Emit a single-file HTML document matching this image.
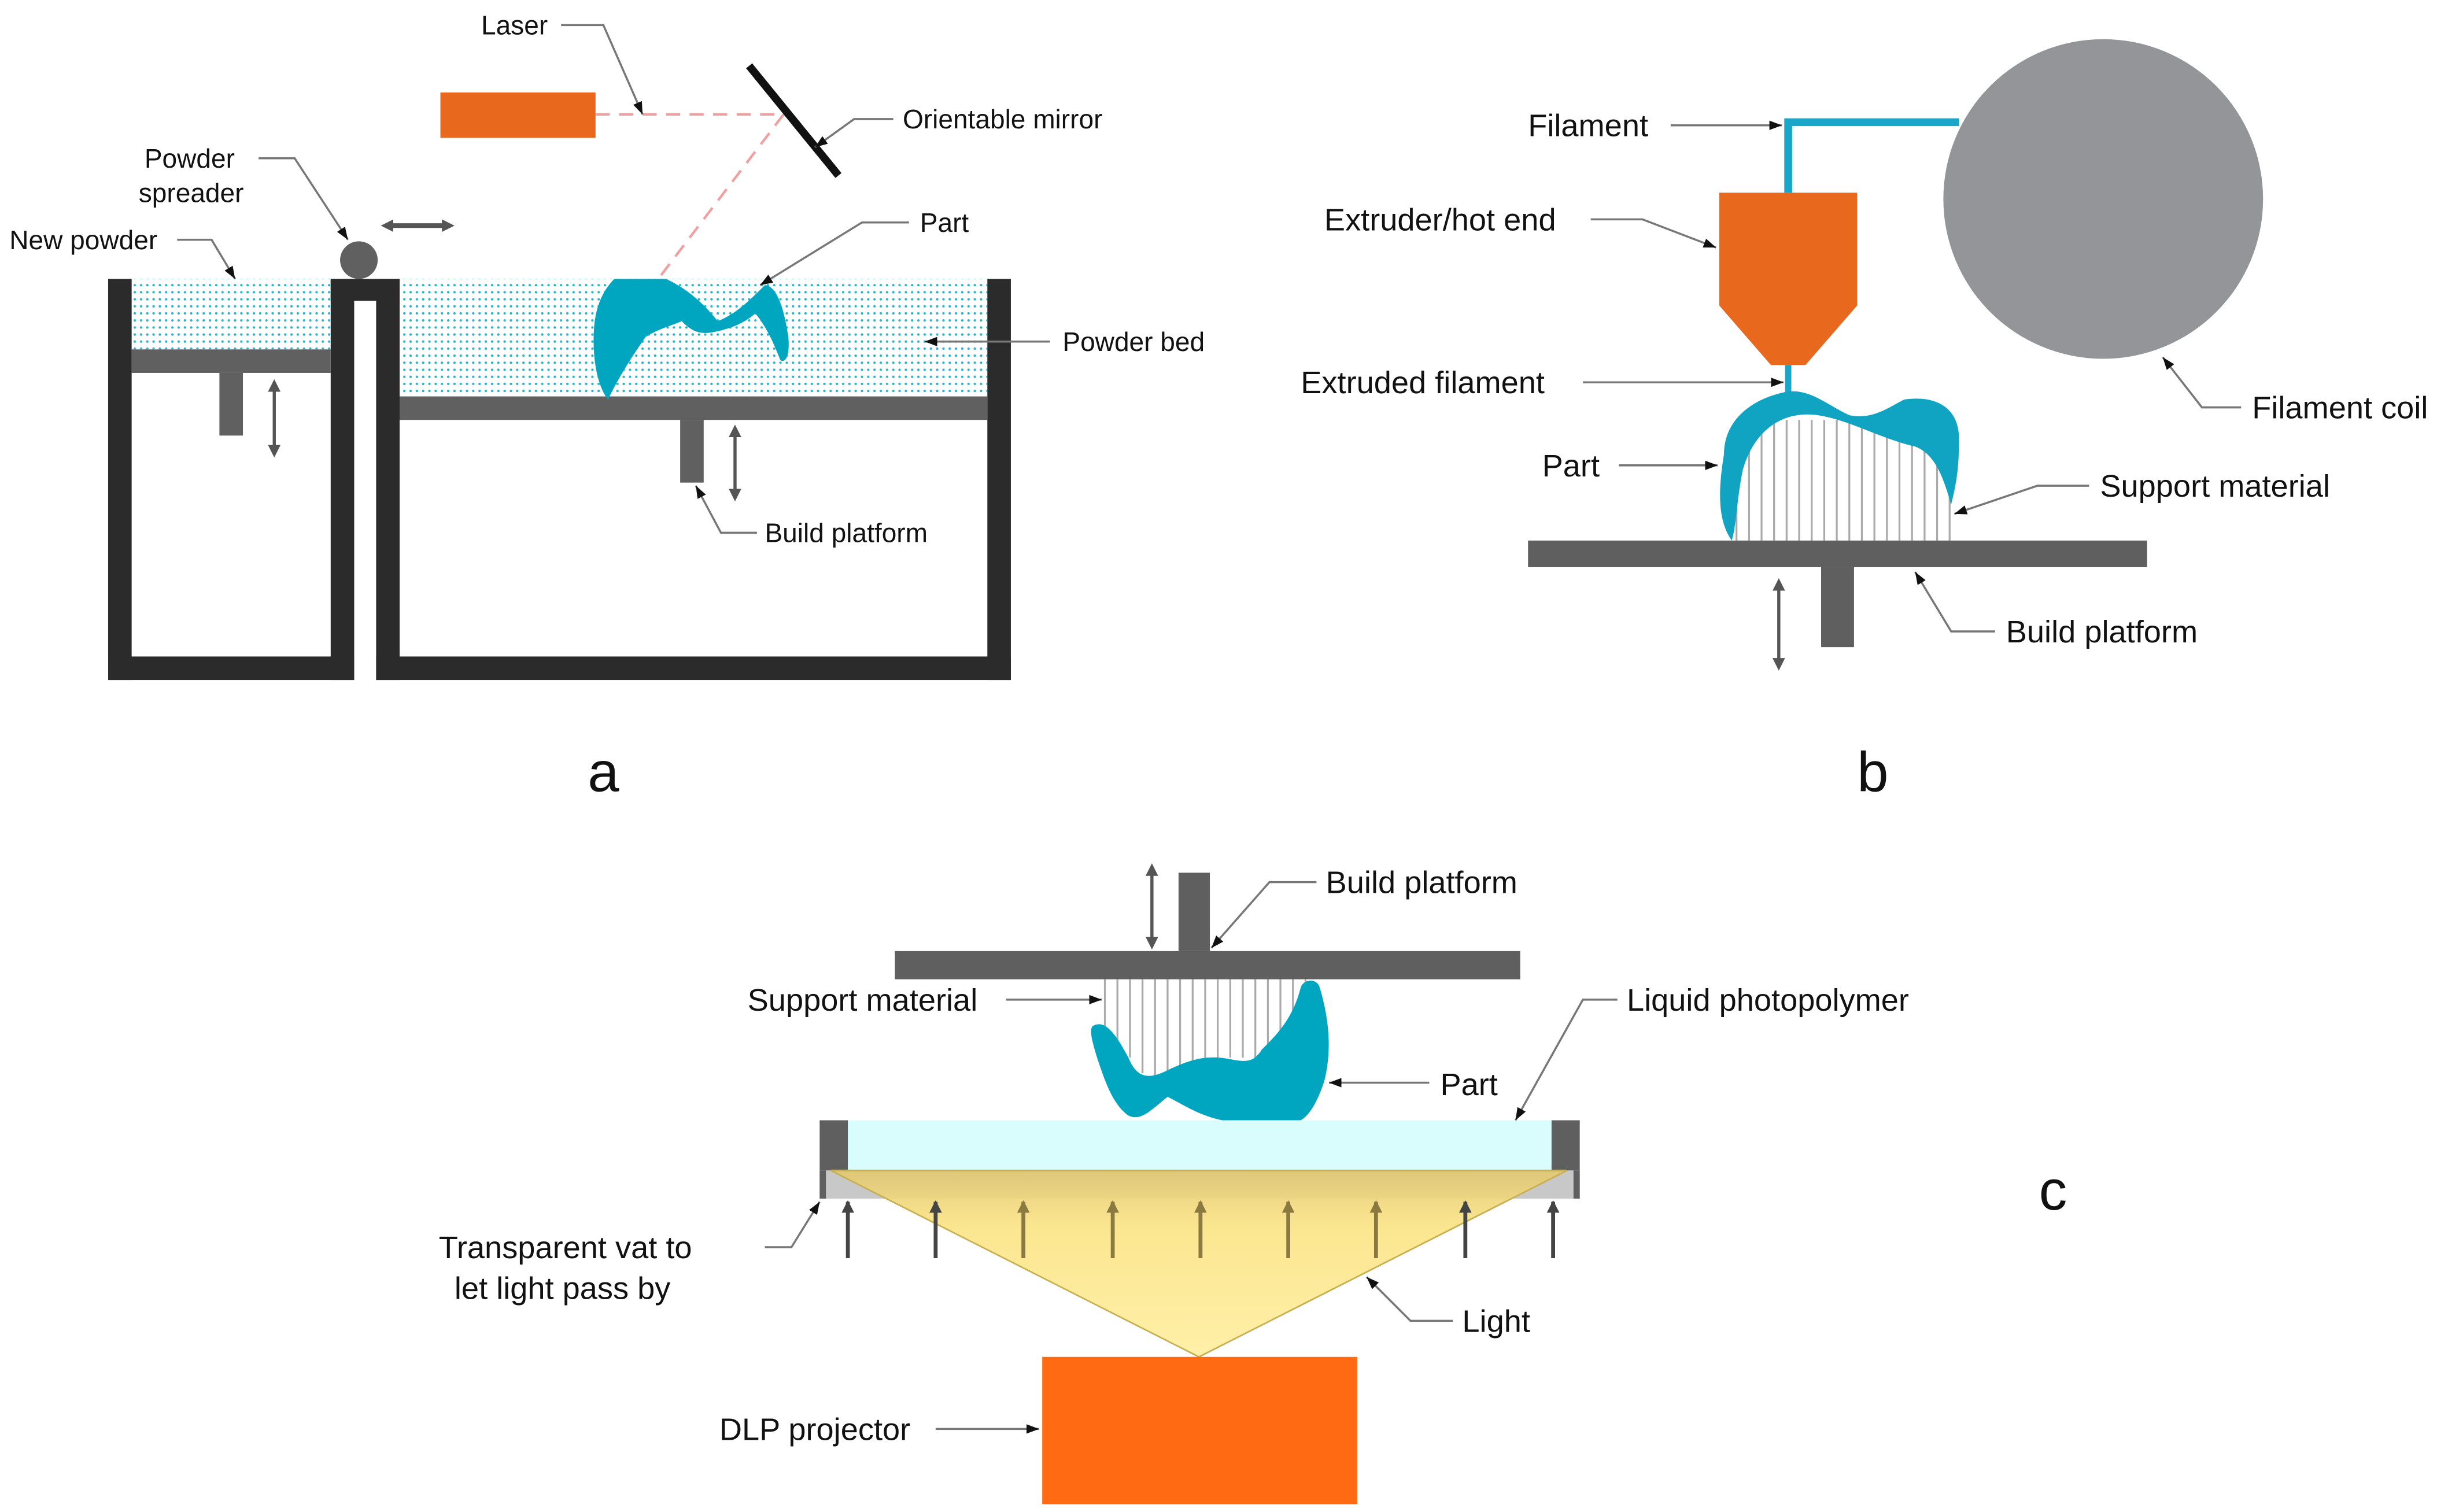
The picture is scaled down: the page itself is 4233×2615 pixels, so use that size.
<!DOCTYPE html>
<html><head><meta charset="utf-8"><style>html,body{margin:0;padding:0;background:#fff}svg{display:block}text{font-family:"Liberation Sans",sans-serif;fill:#111}</style></head>
<body>
<svg width="4233" height="2615" viewBox="0 0 1562 965" preserveAspectRatio="none" xmlns="http://www.w3.org/2000/svg">
<defs>
<pattern id="dots" width="4" height="4.5" patternUnits="userSpaceOnUse"><circle cx="2" cy="2" r="0.8" fill="#2bb5cc"/></pattern>
<marker id="ar" markerWidth="8" markerHeight="6" refX="8" refY="3" orient="auto" markerUnits="userSpaceOnUse"><path d="M0,0 L8,3 L0,6z" fill="#111"/></marker>
<marker id="da" markerWidth="8" markerHeight="8" refX="4" refY="4" orient="auto-start-reverse" markerUnits="userSpaceOnUse"><path d="M0,0 L8,4 L0,8z" fill="#555"/></marker>
<marker id="ua" markerWidth="8" markerHeight="8" refX="7" refY="4" orient="auto" markerUnits="userSpaceOnUse"><path d="M0,0 L8,4 L0,8z" fill="#444"/></marker>
<marker id="ub" markerWidth="8" markerHeight="8" refX="7" refY="4" orient="auto" markerUnits="userSpaceOnUse"><path d="M0,0 L8,4 L0,8z" fill="#8a7a40"/></marker>
<linearGradient id="lg" x1="0" y1="0" x2="0" y2="1"><stop offset="0" stop-color="#e2c66a" stop-opacity="0.85"/><stop offset="0.3" stop-color="#fbe690"/><stop offset="1" stop-color="#fff0a8"/></linearGradient>
</defs>
<style>.ld{fill:none;stroke:#777;stroke-width:1.3}.la{font-size:17px}.lb{font-size:20px}</style>

<!-- Panel a -->
<rect x="281" y="59" width="99" height="29" fill="#e8681e"/>
<path d="M380,73 H500 L420,178" fill="none" stroke="#f0a0a0" stroke-width="1.6" stroke-dasharray="9,6"/>
<line x1="478" y1="42" x2="535" y2="112" stroke="#111" stroke-width="5"/>
<rect x="84" y="178" width="127" height="45" fill="url(#dots)"/>
<rect x="255" y="178" width="375" height="75" fill="url(#dots)"/>
<rect x="69" y="178" width="15" height="256" fill="#2b2b2b"/>
<rect x="69" y="419" width="157" height="15" fill="#2b2b2b"/>
<rect x="211" y="178" width="15" height="256" fill="#2b2b2b"/>
<rect x="211" y="178" width="44" height="14" fill="#2b2b2b"/>
<rect x="240" y="178" width="15" height="256" fill="#2b2b2b"/>
<rect x="240" y="419" width="405" height="15" fill="#2b2b2b"/>
<rect x="630" y="178" width="15" height="256" fill="#2b2b2b"/>
<rect x="84" y="223" width="127" height="15" fill="#606060"/>
<rect x="140" y="238" width="15" height="40" fill="#606060"/>
<line x1="175" y1="246" x2="175" y2="288" stroke="#555" stroke-width="2" marker-start="url(#da)" marker-end="url(#da)"/>
<rect x="255" y="253" width="375" height="15" fill="#606060"/>
<rect x="434" y="268" width="15" height="40" fill="#606060"/>
<line x1="469" y1="275" x2="469" y2="316" stroke="#555" stroke-width="2" marker-start="url(#da)" marker-end="url(#da)"/>
<ellipse cx="229" cy="166" rx="12" ry="12" fill="#606060"/>
<line x1="247" y1="144" x2="286" y2="144" stroke="#555" stroke-width="3" marker-start="url(#da)" marker-end="url(#da)"/>
<path d="M392,178 L425,178 C440,185 450,195 458,205 C470,200 478,192 488,182 C495,182 500,195 503,215 C504,225 502,232 498,230 C494,220 490,210 482,200 C474,207 465,210 455,212 C445,214 440,210 435,205 C428,208 420,210 412,215 C405,225 395,240 388,255 C380,245 378,225 379,210 C380,195 385,185 392,178 Z" fill="#00a5c0"/>
<text class="la" x="307" y="22">Laser</text>
<path class="ld" d="M358,16 H385 L410,73" marker-end="url(#ar)"/>
<text class="la" x="576" y="82">Orientable mirror</text>
<path class="ld" d="M570,76 H545 L520,94" marker-end="url(#ar)"/>
<text class="la" x="121" y="107" text-anchor="middle">Powder</text>
<text class="la" x="122" y="129" text-anchor="middle">spreader</text>
<path class="ld" d="M165,101 H188 L222,153" marker-end="url(#ar)"/>
<text class="la" x="6" y="159">New powder</text>
<path class="ld" d="M113,153 H135 L150,178" marker-end="url(#ar)"/>
<text class="la" x="587" y="148">Part</text>
<path class="ld" d="M580,142 H550 L485,182" marker-end="url(#ar)"/>
<text class="la" x="678" y="224">Powder bed</text>
<path class="ld" d="M670,218 H590" marker-end="url(#ar)"/>
<text class="la" x="488" y="346">Build platform</text>
<path class="ld" d="M483,340 H460 L444,310" marker-end="url(#ar)"/>
<text x="385" y="505" font-size="36" text-anchor="middle">a</text>

<!-- Panel b -->
<circle cx="1342" cy="127" r="102" fill="#939598"/>
<path d="M1250,78 H1141 V123" fill="none" stroke="#1aa6c8" stroke-width="5"/>
<path d="M1097,123 H1185 V195 L1152,233 H1130 L1097,195 Z" fill="#e8681e"/>
<line x1="1141" y1="233" x2="1141" y2="252" stroke="#1aa6c8" stroke-width="4"/>
<g stroke="#aaa" stroke-width="1.2">
<line x1="1108" y1="270" x2="1108" y2="345"/><line x1="1116" y1="270" x2="1116" y2="345"/><line x1="1124" y1="270" x2="1124" y2="345"/><line x1="1132" y1="268" x2="1132" y2="345"/><line x1="1140" y1="268" x2="1140" y2="345"/><line x1="1148" y1="268" x2="1148" y2="345"/><line x1="1156" y1="268" x2="1156" y2="345"/><line x1="1164" y1="268" x2="1164" y2="345"/><line x1="1172" y1="268" x2="1172" y2="345"/><line x1="1180" y1="268" x2="1180" y2="345"/><line x1="1188" y1="268" x2="1188" y2="345"/><line x1="1196" y1="268" x2="1196" y2="345"/><line x1="1204" y1="268" x2="1204" y2="345"/><line x1="1212" y1="268" x2="1212" y2="345"/><line x1="1220" y1="268" x2="1220" y2="345"/><line x1="1228" y1="268" x2="1228" y2="345"/><line x1="1236" y1="268" x2="1236" y2="345"/><line x1="1244" y1="268" x2="1244" y2="345"/>
</g>
<path d="M1100,290 C1100,270 1115,255 1140,250 C1155,248 1165,258 1180,265 C1195,268 1205,260 1215,255 C1235,252 1250,260 1250,280 C1250,300 1248,310 1245,322 C1240,305 1235,290 1222,285 C1200,280 1180,268 1160,265 C1140,262 1120,272 1112,300 C1108,320 1108,335 1105,345 C1098,335 1095,320 1100,290 Z" fill="#11a4c2"/>
<rect x="975" y="345" width="395" height="17" fill="#5f5f60"/>
<rect x="1162" y="362" width="21" height="51" fill="#5f5f60"/>
<line x1="1135" y1="373" x2="1135" y2="424" stroke="#555" stroke-width="2" marker-start="url(#da)" marker-end="url(#da)"/>
<text class="lb" x="975" y="87">Filament</text>
<path class="ld" d="M1066,80 H1137" marker-end="url(#ar)"/>
<text class="lb" x="845" y="147">Extruder/hot end</text>
<path class="ld" d="M1015,140 H1048 L1095,158" marker-end="url(#ar)"/>
<text class="lb" x="830" y="251">Extruded filament</text>
<path class="ld" d="M1010,244 H1138" marker-end="url(#ar)"/>
<text class="lb" x="984" y="304">Part</text>
<path class="ld" d="M1033,297 H1096" marker-end="url(#ar)"/>
<text class="lb" x="1437" y="267">Filament coil</text>
<path class="ld" d="M1430,260 H1405 L1380,228" marker-end="url(#ar)"/>
<text class="lb" x="1340" y="317">Support material</text>
<path class="ld" d="M1333,310 H1300 L1247,328" marker-end="url(#ar)"/>
<text class="lb" x="1280" y="410">Build platform</text>
<path class="ld" d="M1273,403 H1245 L1222,365" marker-end="url(#ar)"/>
<text x="1195" y="505" font-size="36" text-anchor="middle">b</text>

<!-- Panel c -->
<rect x="541" y="715" width="449" height="32" fill="#d9fdfd"/>
<rect x="523" y="747" width="485" height="18" fill="#c8c8c8"/>
<rect x="523" y="715" width="18" height="32" fill="#5f5f60"/>
<rect x="990" y="715" width="18" height="32" fill="#5f5f60"/>
<rect x="523" y="747" width="4" height="18" fill="#5f5f60"/><rect x="1004" y="747" width="4" height="18" fill="#5f5f60"/>
<polygon points="530,747 1000,747 765,866" fill="url(#lg)" stroke="#c8b050" stroke-width="1"/>
<g stroke="#444" stroke-width="2.5">
<line x1="541" y1="803" x2="541" y2="767" marker-end="url(#ua)"/><line x1="597" y1="803" x2="597" y2="767" marker-end="url(#ua)"/><line x1="991" y1="803" x2="991" y2="767" marker-end="url(#ua)"/><line x1="935" y1="803" x2="935" y2="767" marker-end="url(#ua)"/>
</g>
<g stroke="#8a7a40" stroke-width="2.5">
<line x1="653" y1="803" x2="653" y2="767" marker-end="url(#ub)"/><line x1="710" y1="803" x2="710" y2="767" marker-end="url(#ub)"/><line x1="766" y1="803" x2="766" y2="767" marker-end="url(#ub)"/><line x1="822" y1="803" x2="822" y2="767" marker-end="url(#ub)"/><line x1="878" y1="803" x2="878" y2="767" marker-end="url(#ub)"/>
</g>
<rect x="665" y="866" width="201" height="94" fill="#ff6a13"/>
<rect x="571" y="607" width="399" height="18" fill="#5f5f60"/>
<rect x="752" y="557" width="20" height="50" fill="#5f5f60"/>
<line x1="735" y1="555" x2="735" y2="602" stroke="#555" stroke-width="2" marker-start="url(#da)" marker-end="url(#da)"/>
<g stroke="#aaa" stroke-width="1.2">
<line x1="705" y1="625" x2="705" y2="660"/><line x1="713" y1="625" x2="713" y2="665"/><line x1="721" y1="625" x2="721" y2="675"/><line x1="729" y1="625" x2="729" y2="685"/><line x1="737" y1="625" x2="737" y2="688"/><line x1="745" y1="625" x2="745" y2="686"/><line x1="753" y1="625" x2="753" y2="684"/><line x1="761" y1="625" x2="761" y2="682"/><line x1="769" y1="625" x2="769" y2="680"/><line x1="777" y1="625" x2="777" y2="678"/><line x1="785" y1="625" x2="785" y2="675"/><line x1="793" y1="625" x2="793" y2="675"/><line x1="801" y1="625" x2="801" y2="677"/><line x1="809" y1="625" x2="809" y2="676"/><line x1="817" y1="625" x2="817" y2="670"/><line x1="825" y1="625" x2="825" y2="660"/><line x1="833" y1="625" x2="833" y2="640"/>
</g>
<path d="M697,655 C705,650 712,660 720,675 C726,690 735,688 745,683 C760,676 770,673 785,676 C795,678 800,678 805,670 C815,660 825,650 830,630 C832,625 840,624 842,630 C848,650 850,670 845,690 C840,705 835,712 830,715 H780 C765,712 755,705 745,700 C735,708 728,716 720,712 C710,705 705,690 700,675 C697,665 695,658 697,655 Z" fill="#00a5c0"/>
<text class="lb" x="846" y="570">Build platform</text>
<path class="ld" d="M840,563 H810 L773,605" marker-end="url(#ar)"/>
<text class="lb" x="477" y="645">Support material</text>
<path class="ld" d="M642,638 H703" marker-end="url(#ar)"/>
<text class="lb" x="1038" y="645">Liquid photopolymer</text>
<path class="ld" d="M1032,638 H1010 L967,715" marker-end="url(#ar)"/>
<text class="lb" x="919" y="699">Part</text>
<path class="ld" d="M912,691 H848" marker-end="url(#ar)"/>
<text class="lb" x="280" y="803">Transparent vat to</text>
<text class="lb" x="290" y="829">let light pass by</text>
<path class="ld" d="M488,796 H505 L523,767" marker-end="url(#ar)"/>
<text class="lb" x="933" y="850">Light</text>
<path class="ld" d="M927,843 H900 L872,815" marker-end="url(#ar)"/>
<text class="lb" x="459" y="919">DLP projector</text>
<path class="ld" d="M597,912 H663" marker-end="url(#ar)"/>
<text x="1310" y="772" font-size="36" text-anchor="middle">c</text>
</svg>
</body></html>
